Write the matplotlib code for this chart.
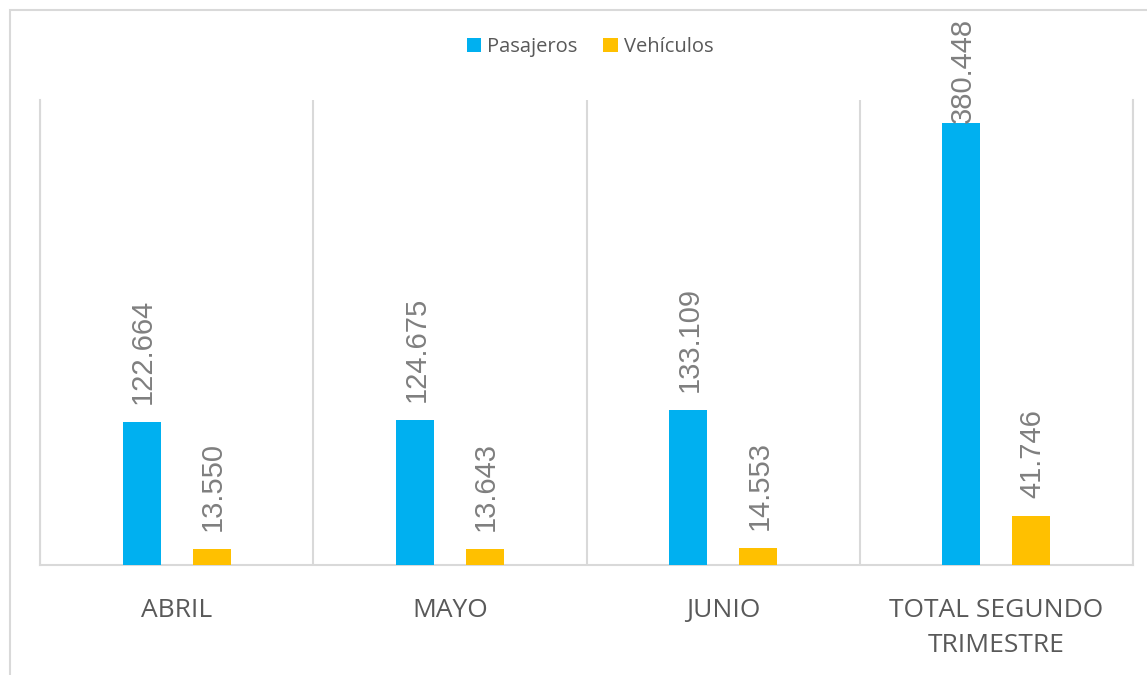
import numpy as np
import matplotlib.pyplot as plt
from matplotlib.patches import Rectangle

categories = ['ABRIL', 'MAYO', 'JUNIO', 'TOTAL SEGUNDO\nTRIMESTRE']
pasajeros = [122664, 124675, 133109, 380448]
vehiculos = [13550, 13643, 14553, 41746]
pas_labels = ['122.664', '124.675', '133.109', '380.448']
veh_labels = ['13.550', '13.643', '14.553', '41.746']

plt.rcParams['font.family'] = ['Open Sans', 'DejaVu Sans']

fig = plt.figure(figsize=(11.47, 6.75), dpi=100)
ax = fig.add_axes([40 / 1147, 110 / 675, 1093 / 1147, 465 / 675])

# outer chart border (cut by the image edge on right/bottom)
fig.patches.append(Rectangle((10 / 1147, -0.1), 1.2, (665 / 675) + 0.1,
                             transform=fig.transFigure, fill=False,
                             edgecolor='#d9d9d9', linewidth=1.5))

x = np.arange(len(categories))
w = 0.139
off = 0.128
ymax = 400000
b1 = ax.bar(x - off, pasajeros, w, color='#00B0F0', label='Pasajeros', zorder=3)
b2 = ax.bar(x + off, vehiculos, w, color='#FFC000', label='Vehículos', zorder=3)

for bars, labs in ((b1, pas_labels), (b2, veh_labels)):
    for rect, lab in zip(bars, labs):
        h = rect.get_height()
        # excel pulls the label down onto the bar when it would leave the chart
        dy = 13 if h < 0.8 * ymax else 0
        ax.annotate(lab, (rect.get_x() + rect.get_width() / 2, h),
                    xytext=(1, dy), textcoords='offset points', rotation=90,
                    ha='center', va='bottom', fontsize=21, color='#7f7f7f',
                    family=['Liberation Sans', 'DejaVu Sans'], annotation_clip=False)

ax.set_xlim(-0.5, 3.5)
ax.set_ylim(0, ymax)
ax.set_yticks([])
ax.set_xticks(x)
ax.set_xticklabels(categories, fontsize=19, color='#595959', linespacing=1.5)
ax.tick_params(axis='x', length=0, pad=24)
ax.set_xticks(np.arange(-0.5, 4, 1.0), minor=True)
ax.tick_params(axis='x', which='minor', length=0)
ax.grid(axis='x', which='minor', color='#d9d9d9', linewidth=1.5, zorder=0)

ax.spines['top'].set_visible(False)
for s in ('left', 'right', 'bottom'):
    ax.spines[s].set_color('#d9d9d9')
    ax.spines[s].set_linewidth(1.5)

fig.legend(loc='center', bbox_to_anchor=(590 / 1147, 1 - 47 / 675), ncol=2,
           frameon=False, fontsize=14.5, labelcolor='#595959',
           handlelength=0.7, handleheight=0.7, handletextpad=0.3, columnspacing=1.3)

fig.savefig('out.png', dpi=100)
